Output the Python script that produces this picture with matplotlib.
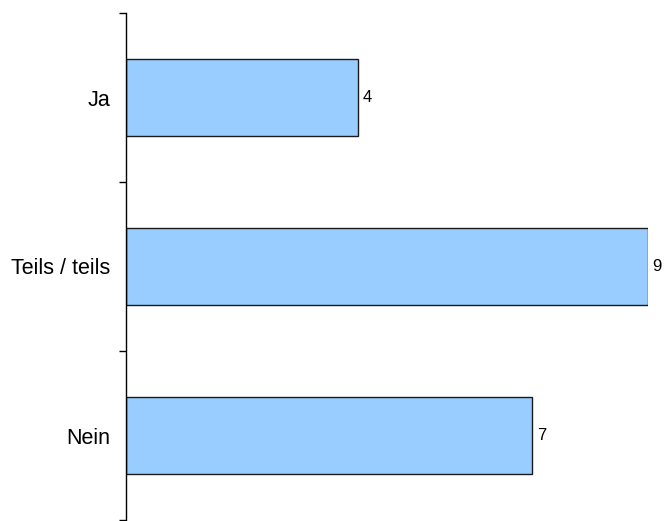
import numpy as np
import matplotlib.pyplot as plt

# Antworten und Anzahl
categories = ['Ja', 'Teils / teils', 'Nein']
counts = [4, 9, 7]

plt.rcParams['font.family'] = ['Liberation Sans', 'DejaVu Sans']

fig = plt.figure(figsize=(6.64, 5.21), dpi=100)
ax = fig.add_axes([126 / 664, 1 / 521, 522 / 664, 507 / 521])

y = np.arange(len(categories))
bars = ax.barh(y, counts, height=0.46, color='#99CCFF', edgecolor='#1a1a1a', linewidth=1)

for b, v in zip(bars, counts):
    ax.text(b.get_width() + 0.08, b.get_y() + b.get_height() / 2, str(v),
            va='center', ha='left', fontsize=12, clip_on=False)

ax.set_xlim(0, 9)
ax.set_ylim(len(categories) - 0.5, -0.5)

ax.set_yticks(y)
ax.set_yticklabels(categories, fontsize=15.5)
ax.tick_params(axis='y', which='major', length=0, pad=11.5)
ax.set_yticks(np.arange(len(categories) + 1) - 0.5, minor=True)
ax.tick_params(axis='y', which='minor', length=5, width=1, direction='out')

ax.set_xticks([])
for s in ['top', 'right', 'bottom']:
    ax.spines[s].set_visible(False)
ax.spines['left'].set_linewidth(1)

fig.savefig('out.png', dpi=100)
